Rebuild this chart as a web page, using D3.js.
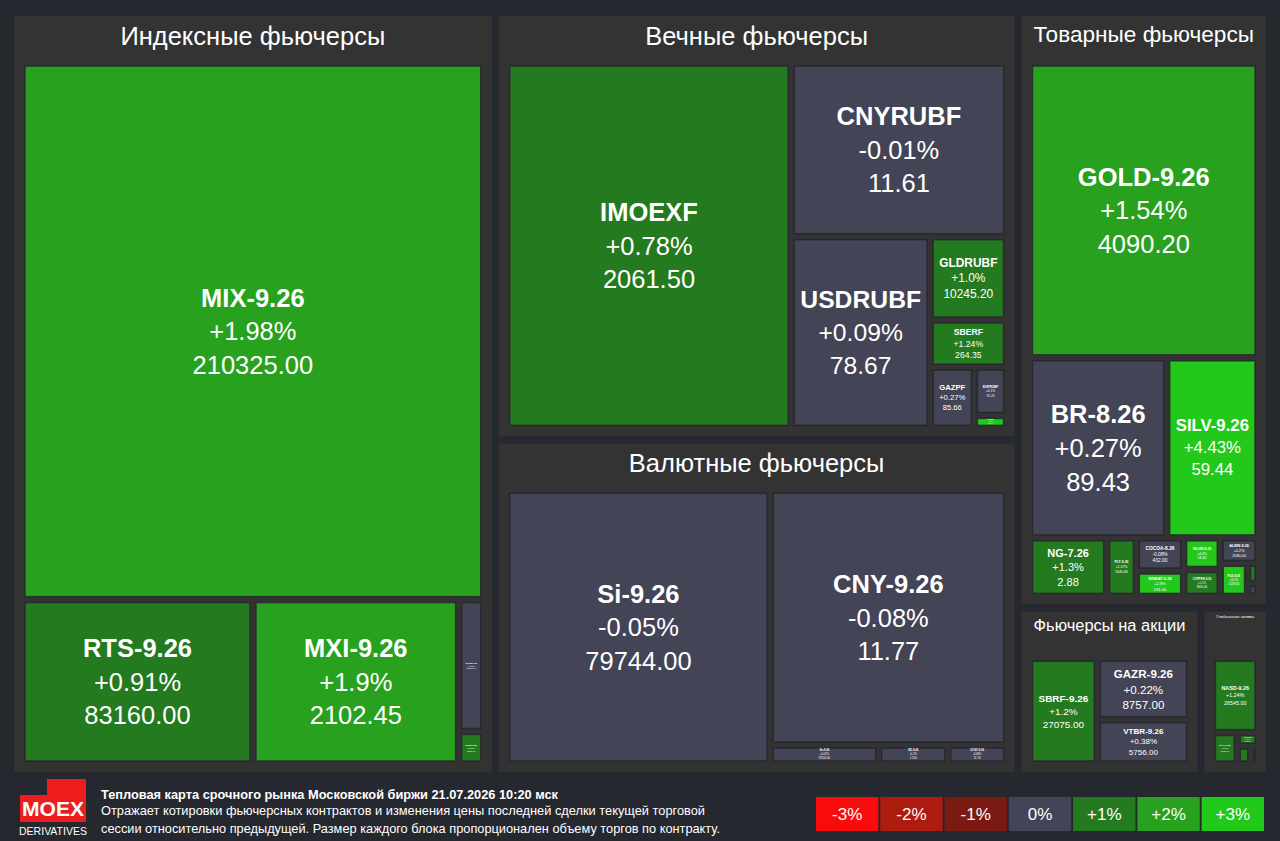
<!doctype html>
<html>
<head>
  <meta charset="utf-8">
  <title>Тепловая карта срочного рынка</title>
  <script src="https://d3js.org/d3.v7.min.js"></script>
  <style>
    body { margin: 0; background: #262830; }
    svg { display: block; }
  </style>
</head>
<body>
  <div id="heatmap"></div>
  <script>
    // groups of the market
    var groupNames = ["Индексные фьючерсы", "Вечные фьючерсы", "Валютные фьючерсы",
      "Товарные фьючерсы", "Фьючерсы на акции", "Глобальные активы"];

    // contracts: ticker, group index, change (%), last price, volume (mln rub)
    var tickers = ["MIX-9.26", "RTS-9.26", "MXI-9.26", "RTSM-9.26", "MXIM-9.26",
      "IMOEXF", "CNYRUBF", "USDRUBF", "GLDRUBF", "SBERF", "GAZPF", "EURRUBF", "SLVRUBF",
      "Si-9.26", "CNY-9.26", "Eu-9.26", "ED-9.26", "UCNY-9.26",
      "GOLD-9.26", "BR-8.26", "SILV-9.26", "NG-7.26", "PLT-9.26", "COCOA-8.26", "WHEAT-9.26",
      "SILVM-9.26", "COPPER-9.26", "ALMN-9.26", "PLD-9.26", "ZINC-9.26", "CO-9.26",
      "SBRF-9.26", "GAZR-9.26", "VTBR-9.26",
      "NASD-9.26", "SPYF-9.26", "HANG-9.26", "DAX-9.26", "NIKK-9.26"];
    var groupOf = [0, 0, 0, 0, 0,
      1, 1, 1, 1, 1, 1, 1, 1,
      2, 2, 2, 2, 2,
      3, 3, 3, 3, 3, 3, 3, 3, 3, 3, 3, 3, 3,
      4, 4, 4,
      5, 5, 5, 5, 5];
    var changes = ["+1.98", "+0.91", "+1.9", "+0.12", "+1.05",
      "+0.78", "-0.01", "+0.09", "+1.0", "+1.24", "+0.27", "+0.1", "+3.1",
      "-0.05", "-0.08", "+0.02", "-0.1", "-0.06",
      "+1.54", "+0.27", "+4.43", "+1.3", "+1.37", "-0.08", "+2.8",
      "+4.4", "+1.1", "+0.2", "+3.2", "+1.2", "0.0",
      "+1.2", "+0.22", "+0.38",
      "+1.24", "+1.1", "+0.6", "+0.7", "0.0"];
    var prices = ["210325.00", "83160.00", "2102.45", "83150.00", "2102.00",
      "2061.50", "11.61", "78.67", "10245.20", "264.35", "85.66", "91.20", "123.40",
      "79744.00", "11.77", "92150.00", "1.156", "11.76",
      "4090.20", "89.43", "59.44", "2.88", "1645.60", "432.00", "231.00",
      "59.40", "9850.00", "2580.00", "1228.00", "2690.00", "31.50",
      "27075.00", "8757.00", "5756.00",
      "26545.00", "6420.00", "24100.00", "24350.00", "41200.00"];
    var volumes = [2733, 419, 373, 36.5, 9,
      1228, 441.6, 314.4, 75.2, 42.6, 32, 18.3, 4.9,
      893, 745.5, 25.5, 16.2, 13.8,
      799, 293, 195, 53.5, 20.6, 18.6, 14.2, 13.7, 11.7, 11.4, 10.7, 2.5, 1.6,
      125.5, 99, 71.5,
      78, 18, 6.5, 5.5, 3];

    // legend
    var legendLabels = ["-3%", "-2%", "-1%", "0%", "+1%", "+2%", "+3%"];
    var legendColors = ["#f80b0b", "#ae1c10", "#7a1a12", "#434455", "#247a1f", "#28a11e", "#22c91a"];

    var titleText = "Тепловая карта срочного рынка Московской биржи 21.07.2026 10:20 мск";
    var descLines = ["Отражает котировки фьючерсных контрактов и изменения цены последней сделки текущей торговой",
      "сессии относительно предыдущей. Размер каждого блока пропорционален объему торгов по контракту."];

    var width = 1280, height = 841;
    var maxFont = 25.5;
    var font = "'Liberation Sans', Arial, sans-serif";
    var narrow = "'Liberation Sans Narrow', 'Liberation Sans', Arial, sans-serif";

    var svg = d3.select("#heatmap")
      .append("svg")
      .attr("width", width)
      .attr("height", height);

    svg.append("rect")
      .attr("width", width)
      .attr("height", height)
      .attr("fill", "#262830");

    var color = d3.scaleThreshold()
      .domain([-2.5, -1.5, -0.5, 0.5, 1.5, 2.5])
      .range(legendColors);

    // build the hierarchy
    var data = {
      name: "root",
      children: groupNames.map(function (g, gi) {
        var kids = [];
        tickers.forEach(function (t, i) {
          if (groupOf[i] === gi) {
            kids.push({ name: t, change: changes[i], price: prices[i], volume: volumes[i] });
          }
        });
        return { name: g, children: kids };
      })
    };

    var root = d3.hierarchy(data)
      .sum(function (d) { return d.volume || 0; })
      .sort(function (a, b) { return b.value - a.value; });

    d3.treemap()
      .size([1252, 756])
      .tile(d3.treemapSquarify.ratio(1))
      .paddingInner(function (d) { return d.depth === 0 ? 7 : 6; })
      .paddingOuter(function (d) { return d.depth === 1 ? 11 : 0; })
      .paddingTop(function (d) { return d.depth === 1 ? 50 : 0; })
      (root);

    var map = svg.append("g")
      .attr("transform", "translate(14,16)");

    // group panels
    var groups = map.selectAll(".group")
      .data(root.children)
      .enter().append("g")
      .attr("class", "group");

    groups.append("rect")
      .attr("x", function (d) { return d.x0; })
      .attr("y", function (d) { return d.y0; })
      .attr("width", function (d) { return d.x1 - d.x0; })
      .attr("height", function (d) { return d.y1 - d.y0; })
      .attr("fill", "#333333");

    groups.append("text")
      .attr("x", function (d) { return (d.x0 + d.x1) / 2; })
      .style("font-family", font)
      .style("font-size", "24px")
      .attr("fill", "#ffffff")
      .attr("text-anchor", "middle")
      .text(function (d) { return d.data.name; })
      .each(function (d) {
        var len = this.getComputedTextLength();
        var fs = Math.min(maxFont, 24 * (d.x1 - d.x0 - 24) / len);
        d3.select(this)
          .style("font-size", fs + "px")
          .attr("y", d.y0 + 2 + fs * 1.06);
      });

    // contract tiles
    var leaves = map.selectAll(".tile")
      .data(root.leaves())
      .enter().append("g")
      .attr("class", "tile");

    leaves.append("rect")
      .attr("x", function (d) { return d.x0; })
      .attr("y", function (d) { return d.y0; })
      .attr("width", function (d) { return Math.max(0, d.x1 - d.x0); })
      .attr("height", function (d) { return Math.max(0, d.y1 - d.y0); })
      .attr("fill", function (d) { return color(+d.data.change); })
      .attr("stroke", "#24242e")
      .attr("stroke-opacity", 0.8)
      .attr("stroke-width", 1.5);

    leaves.each(function (d) {
      var g = d3.select(this);
      var w = d.x1 - d.x0, h = d.y1 - d.y0;
      var cx = (d.x0 + d.x1) / 2, cy = (d.y0 + d.y1) / 2;
      var lines = [d.data.name, d.data.change + "%", d.data.price];
      var texts = lines.map(function (s, i) {
        return g.append("text")
          .attr("x", cx)
          .attr("text-anchor", "middle")
          .attr("dominant-baseline", "central")
          .attr("fill", "#ffffff")
          .style("font-family", font)
          .style("font-weight", i === 0 ? "bold" : "normal")
          .style("font-size", "10px")
          .text(s);
      });
      var maxLen = d3.max(texts, function (t) { return t.node().getComputedTextLength(); });
      var room = Math.max(w - 12, w * 0.6);
      var fs = Math.min(maxFont, 10 * room / maxLen, 0.21 * h);
      if (fs < 1.2) {
        texts.forEach(function (t) { t.remove(); });
        return;
      }
      texts.forEach(function (t, i) {
        t.style("font-size", fs + "px")
          .attr("y", cy + (i - 1) * fs * 1.32);
      });
    });

    // footer: logo
    svg.append("path")
      .attr("d", "M20,795 H47 V779 H86 V822 H20 Z")
      .attr("fill", "#ee1c1c");
    svg.append("text")
      .attr("x", 53).attr("y", 816)
      .attr("text-anchor", "middle")
      .attr("fill", "#ffffff")
      .attr("textLength", 62).attr("lengthAdjust", "spacingAndGlyphs")
      .style("font-family", narrow).style("font-weight", "bold").style("font-size", "21px")
      .text("MOEX");
    svg.append("text")
      .attr("x", 53).attr("y", 835)
      .attr("text-anchor", "middle")
      .attr("fill", "#ffffff")
      .attr("textLength", 68).attr("lengthAdjust", "spacingAndGlyphs")
      .style("font-family", narrow).style("font-size", "11px")
      .text("DERIVATIVES");

    // footer: caption
    svg.append("text")
      .attr("x", 101).attr("y", 799)
      .attr("fill", "#ffffff")
      .attr("textLength", 457).attr("lengthAdjust", "spacingAndGlyphs")
      .style("font-family", narrow).style("font-weight", "bold").style("font-size", "13px")
      .text(titleText);
    svg.selectAll(".desc")
      .data(descLines)
      .enter().append("text")
      .attr("class", "desc")
      .attr("x", 101)
      .attr("y", function (d, i) { return 815 + i * 18; })
      .attr("fill", "#ffffff")
      .attr("textLength", function (d, i) { return i === 0 ? 604 : 619; })
      .attr("lengthAdjust", "spacingAndGlyphs")
      .style("font-family", narrow).style("font-size", "13px")
      .text(function (d) { return d; });

    // footer: colour legend
    var lx = d3.scaleBand()
      .domain(legendLabels)
      .range([816, 1264])
      .paddingInner(0.03);

    var leg = svg.selectAll(".legend")
      .data(legendLabels)
      .enter().append("g")
      .attr("class", "legend");

    leg.append("rect")
      .attr("x", function (d) { return lx(d); })
      .attr("y", 797)
      .attr("width", lx.bandwidth())
      .attr("height", 34)
      .attr("fill", function (d, i) { return legendColors[i]; });

    leg.append("text")
      .attr("x", function (d) { return lx(d) + lx.bandwidth() / 2; })
      .attr("y", 820)
      .attr("text-anchor", "middle")
      .attr("fill", "#ffffff")
      .style("font-family", font)
      .style("font-size", "17px")
      .text(function (d) { return d; });
  </script>
</body>
</html>
